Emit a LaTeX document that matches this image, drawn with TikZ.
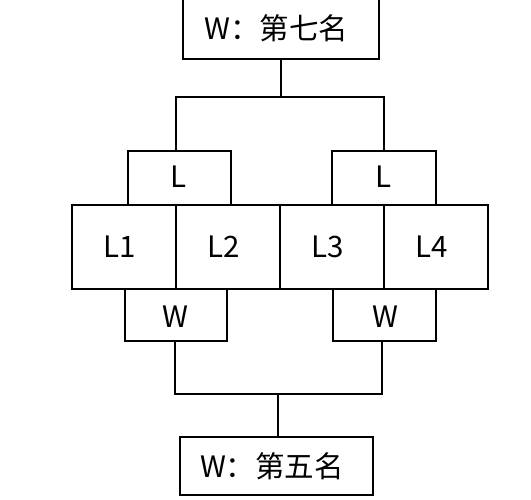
\documentclass[tikz,border=0pt]{standalone}
\usepackage{fontspec}
\setmainfont{Noto Sans CJK SC}
\begin{document}
\begin{tikzpicture}[x=1pt,y=-1pt,
  ln/.style={line width=2pt},
  bx/.style={draw,line width=2pt,rectangle,inner sep=0pt,font=\fontsize{29.5}{32}\selectfont,
    execute at begin node={\hspace*{-9pt}}},
  lbl/.style={inner sep=0pt,font=\fontsize{29.5}{32}\selectfont}]
\useasboundingbox (0,0) rectangle (531,499);
% top box
\node[bx,minimum width=196pt,minimum height=62pt] (top) at (281,28) {W：第七名};
% L1..L4
\node[bx,minimum width=104pt,minimum height=84pt] (l1) at (124,246.5) {L1};
\node[bx,minimum width=104pt,minimum height=84pt] (l2) at (228,246.5) {L2};
\node[bx,minimum width=104pt,minimum height=84pt] (l3) at (332,246.5) {L3};
\node[bx,minimum width=104pt,minimum height=84pt] (l4) at (436,246.5) {L4};
% L brackets
\coordinate (la) at (128,204.5); \coordinate (lb) at (128,150.5);
\coordinate (lc) at (231,150.5); \coordinate (ld) at (231,204.5);
\draw[ln] (la) -- (lb) -- (lc) -- (ld);
\node[lbl] (lL) at (179,177) {L};
\coordinate (ra) at (332,204.5); \coordinate (rb) at (332,150.5);
\coordinate (rc) at (436,150.5); \coordinate (rd) at (436,204.5);
\draw[ln] (ra) -- (rb) -- (rc) -- (rd);
\node[lbl] (rL) at (383.5,177) {L};
% W brackets
\coordinate (wa) at (124.5,288.5); \coordinate (wb) at (124.5,340.5);
\coordinate (wc) at (226.5,340.5); \coordinate (wd) at (226.5,288.5);
\draw[ln] (wa) -- (wb) -- (wc) -- (wd);
\node[lbl] (lW) at (175.5,317) {W};
\coordinate (xa) at (333,288.5); \coordinate (xb) at (333,340.5);
\coordinate (xc) at (436,340.5); \coordinate (xd) at (436,288.5);
\draw[ln] (xa) -- (xb) -- (xc) -- (xd);
\node[lbl] (rW) at (385,317) {W};
% bottom box
\node[bx,minimum width=193pt,minimum height=58pt] (bot) at (276.5,466) {W：第五名};
% top connectors
\coordinate (tj) at (281,97);
\coordinate (tl) at (176,97); \coordinate (tr) at (383.5,97);
\coordinate (tlb) at (176,150.5); \coordinate (trb) at (383.5,150.5);
\draw[ln] (top.south) -- (tj);
\draw[ln] (tlb) -- (tl) -- (tr) -- (trb);
% bottom connectors
\coordinate (blw) at (174.5,340.5); \coordinate (brw) at (382,340.5);
\coordinate (bl) at (174.5,393.5); \coordinate (br) at (382,393.5);
\coordinate (bj) at (278,393.5);
\draw[ln] (blw) -- (bl) -- (br) -- (brw);
\draw[ln] (bj) -- (bj |- bot.north);
\end{tikzpicture}
\end{document}
